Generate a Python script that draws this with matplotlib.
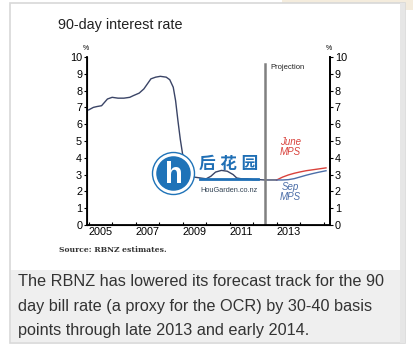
import matplotlib.pyplot as plt
from matplotlib.patches import Rectangle, Circle

# historical 90-day rate
hist_t = [2005.0, 2005.2, 2005.35, 2005.55, 2005.8, 2006.0, 2006.25, 2006.5, 2006.75,
          2006.9, 2007.15, 2007.35, 2007.5, 2007.65, 2007.85, 2008.05, 2008.3, 2008.45,
          2008.6, 2008.7, 2008.8, 2008.9, 2009.0, 2009.1, 2009.25, 2009.5, 2009.75,
          2010.0, 2010.2, 2010.4, 2010.65, 2010.9, 2011.15, 2011.3, 2011.5, 2011.75,
          2012.0, 2012.25, 2012.5, 2012.75, 2013.0]
hist_v = [6.85, 7.0, 7.05, 7.1, 7.5, 7.6, 7.55, 7.55, 7.6,
          7.7, 7.85, 8.1, 8.4, 8.7, 8.8, 8.85, 8.8, 8.65,
          8.2, 7.4, 6.2, 5.1, 4.2, 3.6, 3.1, 2.85, 2.8,
          2.75, 2.9, 3.15, 3.25, 3.2, 3.0, 2.8, 2.75, 2.75,
          2.7, 2.7, 2.68, 2.68, 2.68]

proj_t = [2013.0, 2013.25, 2013.5, 2013.75, 2014.0, 2014.25, 2014.5, 2014.75, 2015.1]
june_v = [2.68, 2.85, 2.98, 3.08, 3.16, 3.23, 3.28, 3.33, 3.4]
sep_v = [2.68, 2.68, 2.7, 2.76, 2.86, 2.96, 3.05, 3.13, 3.23]

year_labels = ['2005', '2007', '2009', '2011', '2013']
year_pos = [2005.5, 2007.5, 2009.5, 2011.5, 2013.5]
projection_start = 2012.5

W, H = 414, 356
fig = plt.figure(figsize=(W / 100, H / 100), dpi=100)
plt.rcParams['font.family'] = ['Liberation Sans', 'Noto Sans CJK SC', 'DejaVu Sans']

def px(x0, y0, w, h):
    return [x0 / W, 1 - (y0 + h) / H, w / W, h / H]

# background card + caption box
bg = fig.add_axes([0, 0, 1, 1])
bg.set_xlim(0, W)
bg.set_ylim(H, 0)
bg.axis('off')
bg.add_patch(Rectangle((282, 0), 132, 10, color='#f4ecdd', lw=0))
bg.add_patch(Rectangle((10, 3), 395, 340, facecolor='white', edgecolor='#d8d8d8', lw=1.2))
bg.add_patch(Rectangle((11, 270), 393, 72, facecolor='#efefef', lw=0))
bg.add_patch(Rectangle((400, 3), 5, 340, facecolor='#e6e6e6', lw=0))

bg.text(58, 25, '90-day interest rate', fontsize=10.4, va='center', ha='left', color='#222222')
bg.text(59, 250, 'Source: RBNZ estimates.', fontsize=5.5, fontweight='bold', va='center',
        ha='left', color='#333333', family='DejaVu Serif')
caption = ['The RBNZ has lowered its forecast track for the 90',
           'day bill rate (a proxy for the OCR) by 30-40 basis',
           'points through late 2013 and early 2014.']
for i, line in enumerate(caption):
    bg.text(18, 282 + i * 24, line, fontsize=11.7, va='center', ha='left', color='#333333')

ax = fig.add_axes(px(87, 57, 243, 168))
ax.patch.set_alpha(0)
ax.set_xlim(2004.93, 2015.27)
ax.set_ylim(0, 10)
ax.plot(hist_t, hist_v, color='#3a4466', lw=1.0)
ax.plot(proj_t, june_v, color='#d9423c', lw=1.0)
ax.plot(proj_t, sep_v, color='#4c6ea8', lw=1.0)
ax.plot([projection_start, projection_start], [0, 9.6], color='#808080', lw=1.8)
ax.text(2012.75, 9.4, 'Projection', fontsize=5.5, va='center', ha='left', color='#222222')
ax.text(2013.6, 4.66, 'June\nMPS', fontsize=7, style='italic', color='#d9423c',
        ha='center', va='center', linespacing=1.0)
ax.text(2013.6, 1.96, 'Sep\nMPS', fontsize=7, style='italic', color='#4c6ea8',
        ha='center', va='center', linespacing=1.0)

for s in ['top']:
    ax.spines[s].set_visible(False)
for s in ['left', 'right', 'bottom']:
    ax.spines[s].set_linewidth(1.3)
ax.set_yticks(range(0, 11))
ax.tick_params(axis='y', direction='out', length=2.5, width=0.8, labelsize=7.8, pad=1)
ax.set_xticks(year_pos)
ax.set_xticklabels(year_labels)
ax.tick_params(axis='x', length=0, labelsize=7.8, pad=1.5)
ax.set_xticks(range(2005, 2016), minor=True)
ax.tick_params(axis='x', which='minor', direction='in', length=2.5, width=0.8)

ax2 = ax.twinx()
ax2.set_ylim(0, 10)
ax2.set_yticks(range(0, 11))
ax2.tick_params(axis='y', direction='out', length=2.5, width=0.8, labelsize=7.8, pad=1)
ax2.spines['top'].set_visible(False)
ax2.spines['right'].set_linewidth(1.3)

bg.text(86, 48, '%', fontsize=5, ha='center', va='center')
bg.text(329, 48, '%', fontsize=5, ha='center', va='center')

# watermark on top of the chart
wm = fig.add_axes([0, 0, 1, 1])
wm.set_xlim(0, W)
wm.set_ylim(H, 0)
wm.axis('off')
wm.add_patch(Circle((173.5, 173.5), 19, facecolor='#1f73b8', edgecolor='white', lw=2.5))
wm.add_patch(Circle((173.5, 173.5), 21, facecolor='none', edgecolor='#1f73b8', lw=1.0))
wm.text(173.5, 175, 'h', fontsize=21, fontweight='bold', color='white', ha='center',
        va='center')
wm.text(229, 164, '后 花 园', fontsize=12, fontweight='bold', color='#1f6fb5', ha='center',
        va='center')
wm.plot([200, 258], [179, 179], color='#1f6fb5', lw=2.0)
wm.text(229, 191, 'HouGarden.co.nz', fontsize=5.3, color='#334455', ha='center',
        va='center')

fig.savefig('out.png', dpi=100)
